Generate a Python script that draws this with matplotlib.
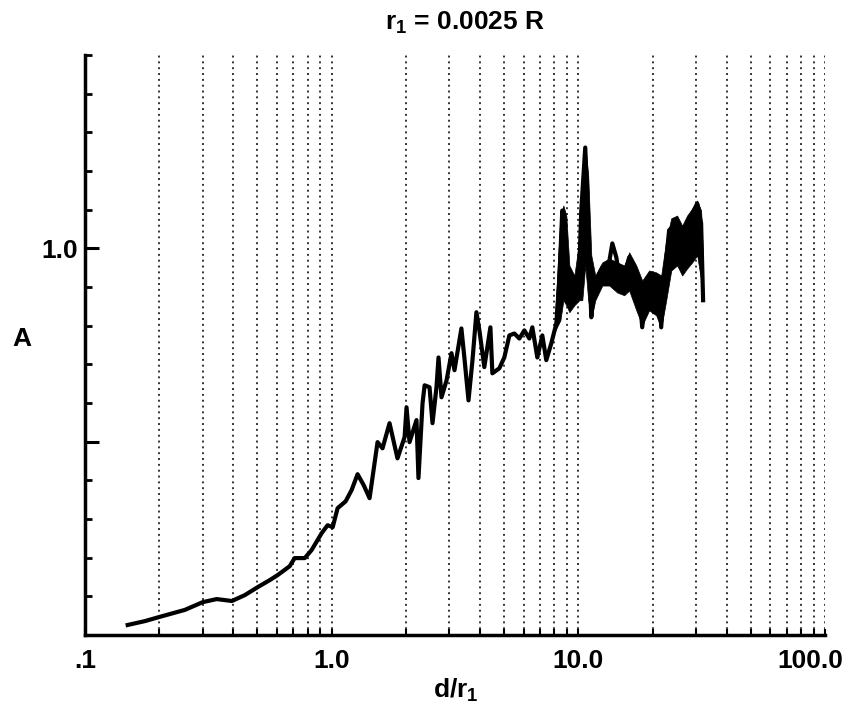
import numpy as np
import matplotlib
matplotlib.use('Agg')
import matplotlib.pyplot as plt
import matplotlib.transforms as mtransforms
from matplotlib.ticker import FixedLocator, MultipleLocator, NullFormatter

# --- datos ---
d_r1 = [0.149, 0.175, 0.201, 0.254, 0.300, 0.342, 0.394, 0.444, 0.502, 0.561,
        0.604, 0.676, 0.708, 0.778, 0.830, 0.912, 0.963, 1.01, 1.057, 1.140,
        1.205, 1.274, 1.348, 1.425, 1.535, 1.608, 1.717, 1.849, 1.976, 2.012,
        2.069, 2.208, 2.249, 2.336, 2.382, 2.494, 2.564, 2.661, 2.712, 2.789,
        2.924, 3.062, 3.148, 3.358, 3.452, 3.588, 3.724, 3.864, 3.972, 4.159,
        4.402, 4.484, 4.785, 5.013, 5.255, 5.506, 5.768, 6.043, 6.331, 6.511,
        6.822, 7.147, 7.417, 7.776, 8.146, 8.375, 8.610, 8.772, 9.018, 9.204,
        9.640, 10.09, 10.28, 10.67, 10.87, 11.09, 11.29, 11.61, 12.17, 12.51,
        13.10, 13.74, 14.26, 14.66, 15.35, 16.08, 16.55, 17.18, 17.66, 18.16,
        18.85, 19.75, 20.69, 21.28, 21.68, 22.29, 23.35, 24.93, 26.12, 26.85,
        27.61, 28.96, 30.34, 31.47, 32.06]
A = [0.026, 0.036, 0.047, 0.065, 0.085, 0.093, 0.088, 0.103, 0.124, 0.142,
     0.155, 0.178, 0.199, 0.199, 0.220, 0.264, 0.284, 0.279, 0.328, 0.346,
     0.375, 0.416, 0.388, 0.354, 0.499, 0.483, 0.548, 0.457, 0.512, 0.589,
     0.499, 0.556, 0.406, 0.599, 0.646, 0.641, 0.548, 0.641, 0.718, 0.615,
     0.659, 0.729, 0.685, 0.793, 0.718, 0.607, 0.711, 0.835, 0.788, 0.693,
     0.796, 0.677, 0.690, 0.718, 0.775, 0.780, 0.767, 0.788, 0.767, 0.796,
     0.718, 0.775, 0.711, 0.755, 0.806, 0.917, 1.098, 1.080, 0.943, 0.858,
     0.873, 0.943, 1.098, 1.261, 1.132, 0.961, 0.822, 0.899, 0.935, 0.951,
     0.935, 1.013, 0.977, 0.925, 0.925, 0.977, 0.951, 0.873, 0.891, 0.796,
     0.891, 0.917, 0.873, 0.925, 0.796, 0.917, 1.047, 1.065, 1.028, 0.951,
     1.065, 1.090, 1.116, 1.065, 0.866]

# zona ruidosa (envolvente de la banda negra)
d_banda = [8.07, 8.46, 8.70, 8.94, 9.20, 9.64, 10.09, 10.38, 10.67, 10.97,
           11.29, 11.72, 12.51, 13.36, 14.38, 15.35, 16.08, 17.18, 18.16, 19.37,
           20.69, 21.68, 22.72, 23.81, 25.16, 26.37, 27.61, 28.96, 30.34, 31.47,
           32.06]
A_sup = [0.840, 1.085, 1.111, 1.085, 0.956, 0.930, 1.021, 1.150, 1.266, 1.189,
         0.982, 0.930, 0.964, 0.974, 0.964, 0.956, 0.990, 0.956, 0.917, 0.943,
         0.938, 0.930, 1.021, 1.078, 1.085, 1.059, 1.085, 1.103, 1.124, 1.098,
         0.969]
A_inf = [0.788, 0.814, 0.866, 0.853, 0.835, 0.853, 0.866, 0.866, 0.956, 0.866,
         0.819, 0.866, 0.904, 0.904, 0.886, 0.879, 0.891, 0.840, 0.801, 0.840,
         0.827, 0.793, 0.866, 0.943, 0.956, 0.930, 0.948, 0.964, 0.982, 0.917,
         0.866]

TICKS_X = [0.1, 1.0, 10.0, 100.0]
ETIQUETAS_X = ['.1', '1.0', '10.0', '100.0']
REJILLA_X = [m * 10.0 ** e for e in (-1, 0, 1) for m in range(2, 10)] + [1.0, 10.0, 100.0]

FUENTE = 'Liberation Sans'
TAM = 19
plt.rcParams['font.family'] = [FUENTE, 'DejaVu Sans']
plt.rcParams['mathtext.fontset'] = 'custom'
plt.rcParams['mathtext.rm'] = FUENTE
plt.rcParams['mathtext.bf'] = FUENTE + ':bold'

fig = plt.figure(figsize=(8.54, 7.07), dpi=100)
ax = fig.add_axes([0.0995, 0.1018, 0.8665, 0.8202])

ax.set_xscale('log')
ax.set_xlim(0.1, 100.0)
ax.set_ylim(0.0, 1.5)

# lineas verticales punteadas
for xg in REJILLA_X:
    ax.axvline(xg, color='black', lw=1.4, linestyle=(0, (1, 2.0)), alpha=0.8, zorder=1)

ax.fill_between(d_banda, A_inf, A_sup, color='black', lw=0.5, edgecolor='black', zorder=3)
ax.plot(d_r1, A, color='black', lw=3, zorder=4)

for s in ['top', 'right']:
    ax.spines[s].set_visible(False)
for s in ['left', 'bottom']:
    ax.spines[s].set_linewidth(2.5)

ax.xaxis.set_major_locator(FixedLocator(TICKS_X))
ax.set_xticklabels(ETIQUETAS_X)
ax.xaxis.set_minor_locator(FixedLocator(REJILLA_X))
ax.xaxis.set_minor_formatter(NullFormatter())
ax.tick_params(axis='x', which='both', direction='in', length=4, width=1.5, pad=10,
               labelsize=TAM)

ax.yaxis.set_major_locator(FixedLocator([0.5, 1.0]))
ax.set_yticklabels(['', '1.0'])
ax.yaxis.set_minor_locator(MultipleLocator(0.1))
ax.tick_params(axis='y', which='major', direction='in', length=10, width=2.2, pad=5,
               labelsize=TAM)
ax.tick_params(axis='y', which='minor', direction='in', length=5, width=2)

for lab in ax.get_xticklabels() + ax.get_yticklabels():
    lab.set_fontweight('bold')

# "100.0" corrido a la izquierda para que no se corte
ult = ax.get_xticklabels()[-1]
ult.set_transform(ult.get_transform() + mtransforms.ScaledTranslation(-0.15, 0, fig.dpi_scale_trans))

fig.text(0.545, 0.968, r'r$_\mathbf{1}$ = 0.0025 R', ha='center', va='center',
         fontsize=TAM, fontweight='bold')
fig.text(0.534, 0.024, r'd/r$_\mathbf{1}$', ha='center', va='center',
         fontsize=TAM, fontweight='bold')
fig.text(0.026, 0.521, 'A', ha='center', va='center', fontsize=TAM, fontweight='bold')

fig.savefig('out.png', dpi=100)
